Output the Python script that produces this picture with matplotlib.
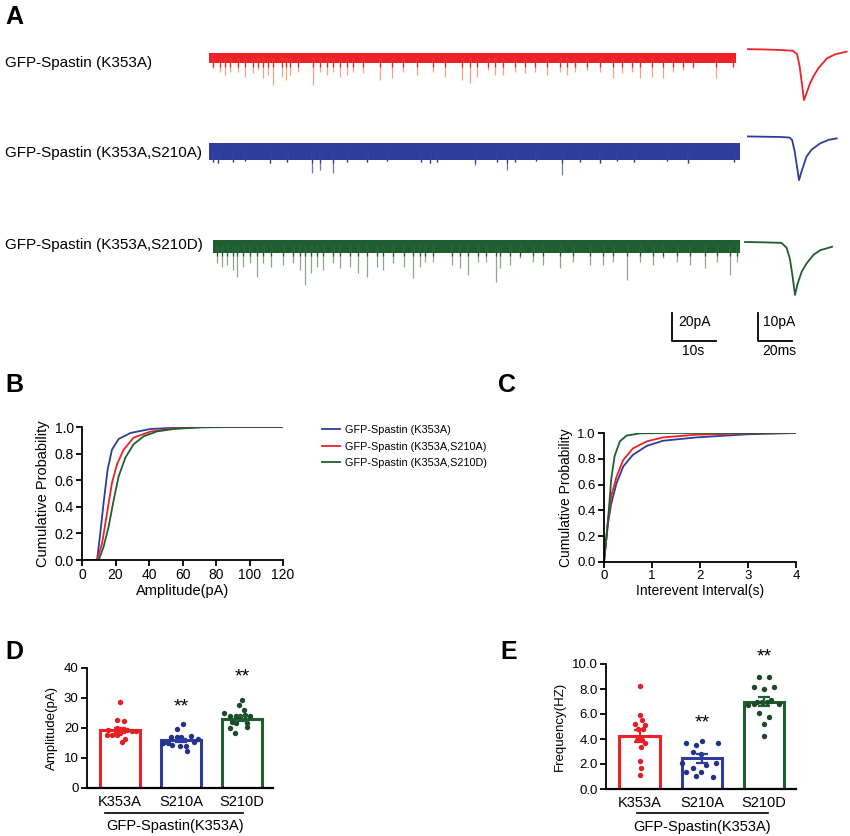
import matplotlib
matplotlib.use("Agg")
import matplotlib.pyplot as plt
from matplotlib.lines import Line2D

plt.rcParams['font.family'] = ['Liberation Sans', 'DejaVu Sans']

# ---------------- data ----------------
trace_names = ["GFP-Spastin (K353A)", "GFP-Spastin (K353A,S210A)", "GFP-Spastin (K353A,S210D)"]

# panel A: mEPSC events (time s, amplitude pA below baseline)
red_evt_t = [1.0, 2.5, 3.6, 4.8, 6.5, 8.2, 10.1, 11.2, 12.4, 13.5, 14.6, 16.6, 17.5, 18.5, 20.3,
             23.8, 25.3, 26.8, 28.3, 29.8, 31.4, 32.9, 35.1, 39.0, 41.6, 44.3, 47.3, 51.1, 53.8,
             57.6, 59.5, 61.0, 63.6, 65.1, 67.0, 69.7, 72.0, 74.3, 76.9, 80.0, 81.5, 83.4, 86.0,
             89.1, 92.1, 94.0, 96.3, 98.2, 100.8, 103.5, 105.8, 108.0, 110.3, 115.6, 119.4]
red_evt_a = [7, 10, 12, 10, 10, 13.6, 10.7, 8.6, 14.3, 12, 19.3, 13.6, 15.7, 12, 10,
             19.3, 10, 12, 10, 13.6, 12, 10, 10.7, 15.7, 14.3, 10, 12, 9.8, 13.3,
             15.7, 18, 13.3, 8.6, 12, 12, 9.8, 11, 9.8, 12, 9.8, 12, 9.8, 8.6,
             9.8, 14.5, 11, 9.8, 14.5, 13.3, 14.5, 9.8, 8.6, 7.4, 14.5, 6.2]

blue_evt_t = [1.0, 2.1, 5.5, 8.2, 13.9, 17.7, 23.4, 25.3, 28.2, 31.4, 35.9, 40.5, 48.4, 50.3,
              51.9, 60.6, 65.5, 67.8, 69.7, 74.6, 80.3, 84.5, 89.1, 92.9, 96.7, 104.3, 109.2, 119.5]
blue_evt_a = [7.5, 8.4, 7.3, 7.0, 8.4, 7.5, 15.6, 13.2, 15.6, 7.5, 7.5, 7.0, 7.3, 8.4,
              7.3, 9.6, 7.5, 13.2, 7.5, 7.0, 16.8, 7.5, 8.4, 7.0, 7.3, 7.0, 8.4, 7.3]

green_evt_t = [0.8, 2.0, 3.1, 4.5, 5.5, 6.8, 8.4, 10.0, 11.4, 13.3, 15.9, 18.2, 19.8, 20.9, 22.4,
               23.6, 25.1, 27.4, 28.9, 31.2, 33.1, 35.0, 37.3, 38.8, 41.1, 43.4, 45.6, 47.2,
               48.3, 50.2, 54.4, 56.3, 58.2, 60.4, 62.3, 64.5, 65.4, 67.7, 69.9, 73.0, 75.2,
               79.0, 82.1, 85.9, 88.9, 91.2, 94.2, 97.3, 100.3, 102.6, 105.6, 108.7, 112.1,
               114.7, 117.8, 119.3]
green_evt_a = [12, 14.4, 13.2, 16.8, 21.6, 14.4, 12, 21.6, 12, 14.4, 13.2, 12, 16.8, 27.5, 19.1,
               14.4, 16.8, 12, 15.6, 14.4, 19.1, 21.6, 14.4, 16.8, 12, 14.4, 22.7, 14.4,
               10.9, 10.9, 13.2, 15.6, 20.4, 10.9, 10.9, 25.1, 15.6, 13.2, 8.4, 10.9, 13.2,
               15.6, 10.9, 13.2, 13.2, 10.9, 23.9, 10.9, 13.2, 8.4, 10.9, 13.2, 15.6,
               10.9, 20.4, 10.9]

# averaged mEPSC (ms, pA)
red_avg_t = [0, 10, 20, 27, 29.5, 31, 32.5, 33.5, 35, 37, 39, 42, 47, 52, 58.6]
red_avg_i = [0.3, 0.2, 0, -0.3, -1.5, -6, -13, -17.9, -15.5, -12, -9.5, -6.5, -3, -1.5, -0.6]
blue_avg_t = [0, 10, 20, 25, 26.5, 28, 29.5, 30.6, 32, 35, 38, 43, 48, 52.8]
blue_avg_i = [0.2, 0.1, 0, -0.2, -1, -5, -11, -15.4, -12.5, -7, -4.5, -2.3, -1.0, -0.5]
green_avg_t = [0, 10, 22, 25, 27, 28.5, 30, 31.5, 34, 37, 41, 45, 51.8]
green_avg_i = [0, -0.1, -0.3, -2, -6, -12, -18.9, -15, -10.5, -7.5, -4.5, -2.9, -1.7]

# panel B: cumulative amplitude
amp_x_k353a = [0, 9, 10.9, 12.9, 15.3, 17.9, 21.9, 28.9, 40.8, 60.7, 80.6, 120]
amp_y_k353a = [0, 0, 0.2, 0.43, 0.68, 0.83, 0.91, 0.955, 0.985, 0.997, 1.0, 1.0]
amp_x_s210a = [0, 9, 12, 14.9, 17.9, 20.9, 24.9, 30.8, 40.8, 54.7, 70.6, 120]
amp_y_s210a = [0, 0, 0.125, 0.35, 0.58, 0.72, 0.83, 0.92, 0.965, 0.99, 1.0, 1.0]
amp_x_s210d = [0, 10, 12.9, 15.9, 18.9, 21.9, 25.9, 30.8, 36.8, 44.8, 54.7, 70.6, 90, 120]
amp_y_s210d = [0, 0, 0.1, 0.25, 0.45, 0.63, 0.77, 0.87, 0.93, 0.967, 0.985, 0.997, 1.0, 1.0]

# panel C: cumulative interevent interval
iei_x_k353a = [0, 0.084, 0.15, 0.26, 0.4, 0.6, 0.89, 1.23, 1.93, 2.98, 4.0]
iei_y_k353a = [0, 0.3, 0.45, 0.61, 0.74, 0.83, 0.9, 0.94, 0.966, 0.99, 1.0]
iei_x_s210a = [0, 0.084, 0.15, 0.26, 0.4, 0.6, 0.89, 1.23, 1.93, 2.98, 4.0]
iei_y_s210a = [0, 0.325, 0.51, 0.66, 0.79, 0.88, 0.935, 0.966, 0.987, 0.997, 1.0]
iei_x_s210d = [0, 0.084, 0.15, 0.22, 0.33, 0.47, 0.75, 1.23, 4.0]
iei_y_s210d = [0, 0.325, 0.64, 0.82, 0.935, 0.98, 0.997, 1.0, 1.0]

# panels D and E
groups = ["K353A", "S210A", "S210D"]
amp_mean = [19.2, 15.9, 23.1]
amp_sem = [0.9, 0.6, 0.8]
freq_mean = [4.24, 2.45, 7.0]
freq_sem = [0.5, 0.33, 0.38]

red_amp = [28.7, 22.6, 22.4, 19.2, 19.3, 19.0, 18.9, 17.6, 17.7, 17.6, 16.3, 15.2, 20.0, 18.5]
red_amp_x = [0.0, -0.04, 0.06, -0.19, 0.11, 0.19, 0.27, -0.21, -0.13, -0.05, 0.09, 0.03, -0.05, 0.0]
blue_amp = [21.2, 19.6, 16.9, 16.9, 17.1, 17.2, 15.1, 14.9, 14.4, 14.1, 12.5, 15.5, 16.3, 14.0]
blue_amp_x = [0.04, -0.06, -0.17, -0.07, 0.0, 0.16, -0.3, -0.21, -0.15, -0.02, 0.1, 0.22, 0.28, 0.08]
green_amp = [29.3, 27.6, 26.0, 24.9, 24.0, 24.1, 24.1, 24.3, 24.0, 22.1, 21.8, 21.8, 20.4, 19.9, 18.2]
green_amp_x = [0.0, -0.05, 0.04, -0.29, -0.19, -0.1, -0.03, 0.05, 0.13, -0.17, -0.09, 0.08, 0.08, -0.2, -0.11]

red_freq = [8.25, 5.92, 5.52, 5.17, 5.12, 4.8, 4.8, 3.92, 3.92, 3.65, 3.39, 2.24, 1.65, 1.12]
red_freq_x = [0.0, 0.0, 0.04, -0.07, 0.08, -0.03, 0.06, -0.05, 0.04, 0.08, 0.02, 0.0, 0.02, 0.0]
blue_freq = [3.71, 3.52, 3.87, 3.71, 2.93, 2.77, 2.05, 1.92, 2.05, 1.65, 1.39, 1.39, 1.07, 0.99]
blue_freq_x = [-0.25, -0.09, 0.0, 0.26, -0.15, -0.01, -0.32, 0.07, 0.23, -0.14, -0.25, -0.01, -0.09, 0.18]
green_freq = [8.99, 8.99, 8.13, 8.0, 8.19, 6.72, 6.83, 6.99, 6.93, 6.99, 7.12, 6.77, 6.05, 5.79, 5.17, 4.27]
green_freq_x = [-0.08, 0.08, -0.16, 0.0, 0.16, -0.26, -0.17, -0.11, -0.03, 0.05, 0.11, 0.24, -0.08, 0.08, 0.0, 0.0]

# ---------------- style ----------------
RED, BLUE, GREEN = '#ec2227', '#2f3c9e', '#1f5f2f'
RED_L, BLUE_L, GREEN_L = '#f4a486', '#6e78ba', '#8ea58e'
DOT_R, DOT_B, DOT_G = '#e01f26', '#22328c', '#1b4a2a'

W, H = 850, 836
fig = plt.figure(figsize=(W / 100, H / 100), dpi=100)


def px_axes(left, top, width, height):
    return fig.add_axes([left / W, 1 - (top + height) / H, width / W, height / H])


def ftext(x, y, s, **kw):
    fig.text(x / W, 1 - y / H, s, **kw)


def fline(x0, x1, y0, y1, **kw):
    fig.add_artist(Line2D([x0 / W, x1 / W], [1 - y0 / H, 1 - y1 / H], **kw))


# panel letters
for lab, x, y in [("A", 5, 17), ("B", 5, 385), ("C", 498, 385), ("D", 5, 652), ("E", 500, 652)]:
    ftext(x, y, lab, fontsize=18, fontweight='bold', va='center', ha='left')

# ---------------- panel A ----------------
PX_S, PX_PA = 4.39, 1.4
rows = [
    (trace_names[0], 209, 736, 58, 3.6, red_evt_t, red_evt_a, RED, RED_L, 63),
    (trace_names[1], 209, 740, 151.5, 6.0, blue_evt_t, blue_evt_a, BLUE, BLUE_L, 153),
    (trace_names[2], 213, 740, 246.5, 4.6, green_evt_t, green_evt_a, GREEN, GREEN_L, 245),
]
for name, x0, x1, cy, half, et, ea, col, lcol, ty in rows:
    ftext(5, ty, name, fontsize=11, va='center', ha='left')
    ax = px_axes(x0, cy - 20, x1 - x0, 60)
    ax.set_xlim(0, (x1 - x0) / PX_S)
    ax.set_ylim(-40 / PX_PA, 20 / PX_PA)
    ax.axis('off')
    ax.vlines(et, [-a for a in ea], 0, colors=lcol, lw=0.9)
    ax.vlines(et, [-min(a, half + 2.5) for a in ea], 0, colors=col, lw=0.9)
    ax.fill_between([0, (x1 - x0) / PX_S], -half, half, color=col, lw=0)

# averaged events
PX_MS, PX_PA2 = 1.7, 2.8
avgs = [(747, 50, red_avg_t, red_avg_i, RED),
        (747, 137, blue_avg_t, blue_avg_i, BLUE),
        (744, 242, green_avg_t, green_avg_i, GREEN)]
for x0, by, tt, ii, col in avgs:
    ax = px_axes(x0, by - 10, 102, 70)
    ax.set_xlim(0, 102 / PX_MS)
    ax.set_ylim(-60 / PX_PA2, 10 / PX_PA2)
    ax.axis('off')
    ax.plot(tt, ii, color=col, lw=1.3)

# scale bars
sb1 = px_axes(672, 313, 44, 28)
sb1.set_xlim(0, 10)
sb1.set_ylim(0, 20)
sb1.axis('off')
sb1.plot([0, 0, 10], [20, 0, 0], color='black', lw=1.3, clip_on=False)
sb2 = px_axes(758, 313, 34, 28)
sb2.set_xlim(0, 20)
sb2.set_ylim(0, 10)
sb2.axis('off')
sb2.plot([0, 0, 20], [10, 0, 0], color='black', lw=1.3, clip_on=False)
ftext(678, 322, "20pA", fontsize=10, va='center')
ftext(682, 351, "10s", fontsize=10, va='center')
ftext(763, 322, "10pA", fontsize=10, va='center')
ftext(762, 351, "20ms", fontsize=10, va='center')


def style_axes(ax, size=9.5):
    for s in ['top', 'right']:
        ax.spines[s].set_visible(False)
    for s in ['left', 'bottom']:
        ax.spines[s].set_linewidth(1.3)
    ax.tick_params(direction='out', length=4, width=1.3, labelsize=size, pad=2)


# ---------------- panel B ----------------
axb = px_axes(82, 427, 201, 133)
lb1, = axb.plot(amp_x_k353a, amp_y_k353a, color=BLUE, lw=1.3)
lb2, = axb.plot(amp_x_s210a, amp_y_s210a, color=RED, lw=1.3)
lb3, = axb.plot(amp_x_s210d, amp_y_s210d, color=GREEN, lw=1.3)
axb.set_xlim(0, 120)
axb.set_ylim(0, 1)
axb.set_xticks(range(0, 121, 20))
axb.set_yticks([0, 0.2, 0.4, 0.6, 0.8, 1.0])
axb.set_yticklabels(["%.1f" % v for v in [0, 0.2, 0.4, 0.6, 0.8, 1.0]])
axb.set_xlabel("Amplitude(pA)", fontsize=10.5, labelpad=1)
axb.set_ylabel("Cumulative Probability", fontsize=10.5, labelpad=3)
style_axes(axb, 10)
fig.legend([lb1, lb2, lb3], trace_names, loc='upper left',
           bbox_to_anchor=(322 / W, 1 - 425 / H), frameon=False, fontsize=7.8,
           borderpad=0, borderaxespad=0, handlelength=1.7, handletextpad=0.45,
           labelspacing=0.6)

# ---------------- panel C ----------------
axc = px_axes(604, 433, 192, 129)
axc.plot(iei_x_k353a, iei_y_k353a, color=BLUE, lw=1.3)
axc.plot(iei_x_s210a, iei_y_s210a, color=RED, lw=1.3)
axc.plot(iei_x_s210d, iei_y_s210d, color=GREEN, lw=1.3)
axc.set_xlim(0, 4)
axc.set_ylim(0, 1)
axc.set_xticks(range(0, 5))
axc.set_yticks([0, 0.2, 0.4, 0.6, 0.8, 1.0])
axc.set_yticklabels(["%.1f" % v for v in [0, 0.2, 0.4, 0.6, 0.8, 1.0]])
axc.set_xlabel("Interevent Interval(s)", fontsize=10, labelpad=1)
axc.set_ylabel("Cumulative Probability", fontsize=10, labelpad=3)
style_axes(axc, 9.5)


# ---------------- panels D, E ----------------
def bar_panel(ax, means, sems, pts, offs, ylim, yticks, fmt, ylabel, stars):
    cols = [RED, BLUE, GREEN]
    dots = [DOT_R, DOT_B, DOT_G]
    for i in range(3):
        ax.bar(i, means[i], width=0.65, facecolor='white', edgecolor=cols[i], lw=2.2, zorder=2)
        ax.errorbar(i, means[i], yerr=sems[i], color=cols[i], capsize=4, lw=1.6,
                    capthick=1.6, zorder=4)
        ax.scatter([i + o for o in offs[i]], pts[i], s=15, color=dots[i], zorder=3, lw=0)
    for i, y in stars:
        ax.text(i, y, "**", ha='center', va='center', fontsize=14)
    ax.set_ylim(*ylim)
    ax.set_xlim(-0.54, 2.51)
    ax.set_yticks(yticks)
    ax.set_yticklabels([fmt % v for v in yticks])
    ax.set_xticks(range(3))
    ax.set_xticklabels(groups, fontsize=10.5)
    ax.set_ylabel(ylabel, fontsize=9.5, labelpad=4)
    style_axes(ax)
    ax.tick_params(axis='x', length=0, pad=5, labelsize=10.5)
    ax.spines['bottom'].set_linewidth(1.6)


axd = px_axes(87, 668, 186, 120)
bar_panel(axd, amp_mean, amp_sem, [red_amp, blue_amp, green_amp],
          [red_amp_x, blue_amp_x, green_amp_x], (0, 40), [0, 10, 20, 30, 40], "%d",
          "Amplitude(pA)", [(1, 27), (2, 37)])
fline(105, 243, 813, 813, color='black', lw=1.2)
ftext(175, 826, "GFP-Spastin(K353A)", fontsize=10.5, ha='center', va='center')

axe = px_axes(606, 664, 190, 125)
bar_panel(axe, freq_mean, freq_sem, [red_freq, blue_freq, green_freq],
          [red_freq_x, blue_freq_x, green_freq_x], (0, 10), [0, 2, 4, 6, 8, 10], "%.1f",
          "Frequency(HZ)", [(1, 5.3), (2, 10.55)])
fline(637, 768, 813, 813, color='black', lw=1.2)
ftext(702, 827, "GFP-Spastin(K353A)", fontsize=10.5, ha='center', va='center')

fig.savefig("out.png", dpi=100)
